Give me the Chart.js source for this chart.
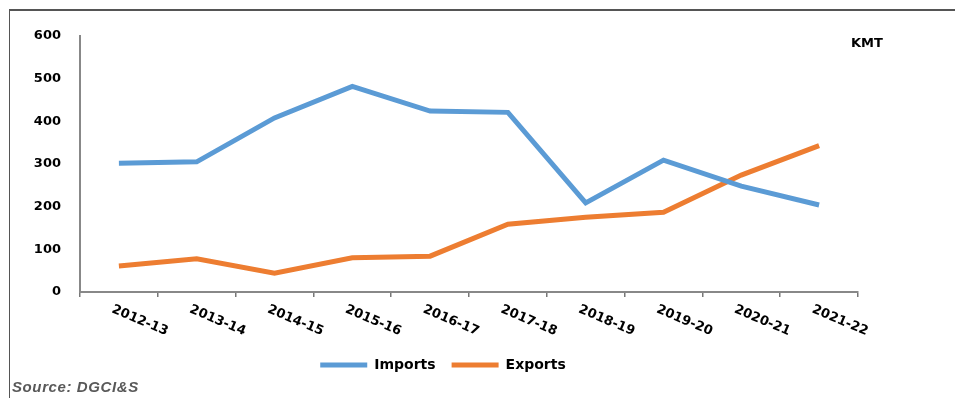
<!DOCTYPE html>
<html>
<head>
<meta charset="utf-8">
<script src="https://cdn.jsdelivr.net/npm/chart.js@4.4.1/dist/chart.umd.min.js"></script>
<style>
  body { margin: 0; background: #fff; }
  #wrap { position: relative; width: 955px; height: 398px; overflow: hidden; }
  #frame { position: absolute; left: 9px; top: 9px; width: 960px; height: 400px;
           border-top: 2px solid #555; border-left: 1px solid #555; }
  canvas { position: absolute; left: 0; top: 0; }
  #source { position: absolute; left: 12px; top: 378px; font: italic bold 15px "Liberation Sans", Arial, sans-serif;
            color: #595959; letter-spacing: 0.6px; }
</style>
</head>
<body>
<div id="wrap">
  <div id="frame"></div>
  <canvas id="tradeChart" width="955" height="398"></canvas>
  <div id="source">Source: DGCI&amp;S</div>
</div>
<script>
const years = ['2012-13', '2013-14', '2014-15', '2015-16', '2016-17', '2017-18', '2018-19', '2019-20', '2020-21', '2021-22'];
const imports = [302, 305, 408, 482, 424, 421, 209, 309, 248, 204];
const exports = [61, 78, 44, 80, 84, 159, 175, 187, 274, 343];
const unitLabel = 'KMT';

const labelFont = 'bold 13px "DejaVu Sans", Verdana, sans-serif';

// rotated (clockwise) year labels + unit text, legend nudged right
const extraText = {
    id: 'extraText',
    afterLayout(chart) {
        chart.legend.left += 14;
        chart.legend.right += 14;
    },
    afterDraw(chart) {
        const ctx = chart.ctx;
        const xs = chart.scales.x;
        ctx.save();
        ctx.font = labelFont;
        ctx.fillStyle = '#000';
        ctx.textAlign = 'left';
        ctx.textBaseline = 'top';
        years.forEach((yr, i) => {
            const x = xs.getPixelForValue(i);
            ctx.save();
            ctx.translate(x - 4, xs.top + 11);
            ctx.rotate(23 * Math.PI / 180);
            ctx.fillText(yr, 0, 0);
            ctx.restore();
        });
        ctx.font = 'bold 13px "DejaVu Sans", Verdana, sans-serif';
        ctx.textBaseline = 'middle';
        ctx.fillText(unitLabel, 851, 44);
        ctx.restore();
    }
};

const baseLabels = Chart.defaults.plugins.legend.labels.generateLabels;

const ctx = document.getElementById('tradeChart').getContext('2d');
const tradeChart = new Chart(ctx, {
    type: 'line',
    data: {
        labels: years,
        datasets: [{
            label: 'Imports',
            data: imports,
            borderColor: '#5B9BD5',
            backgroundColor: '#5B9BD5',
            borderWidth: 5,
            pointRadius: 0,
            tension: 0,
            fill: false
        }, {
            label: 'Exports',
            data: exports,
            borderColor: '#ED7D31',
            backgroundColor: '#ED7D31',
            borderWidth: 5,
            pointRadius: 0,
            tension: 0,
            fill: false
        }]
    },
    options: {
        responsive: false,
        animation: false,
        layout: { padding: { left: 0, right: 97, top: 36, bottom: 16 } },
        plugins: {
            legend: {
                position: 'bottom',
                labels: {
                    boxWidth: 47,
                    boxHeight: 5,
                    padding: 16,
                    color: '#000',
                    font: { family: '"DejaVu Sans", Verdana, sans-serif', size: 14, weight: 'bold' },
                    generateLabels(chart) {
                        return baseLabels(chart).map(item => Object.assign(item, { lineWidth: 0 }));
                    }
                }
            },
            tooltip: { enabled: false }
        },
        scales: {
            x: {
                offset: true,
                ticks: { display: false },
                grid: { display: true, offset: true, drawOnChartArea: false, drawTicks: true, tickLength: 5, color: '#777', lineWidth: 1.5 },
                border: { display: true, color: '#888', width: 2 },
                afterFit(scale) { scale.height = 50; }
            },
            y: {
                min: 0,
                max: 600,
                ticks: {
                    stepSize: 100,
                    padding: 19,
                    color: '#000',
                    font: { family: '"DejaVu Sans", Verdana, sans-serif', size: 13, weight: 'bold' }
                },
                grid: { display: false, drawTicks: false },
                border: { display: true, color: '#888', width: 2 },
                afterFit(scale) { scale.width = 80; }
            }
        }
    },
    plugins: [extraText]
});
</script>
</body>
</html>
